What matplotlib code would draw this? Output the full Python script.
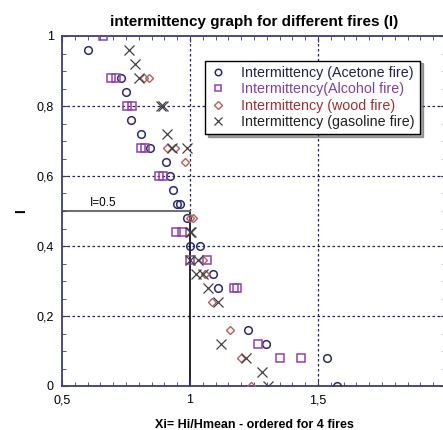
import matplotlib
matplotlib.use("Agg")
import matplotlib.pyplot as plt
from matplotlib.ticker import MultipleLocator, FuncFormatter

plt.rcParams['font.family'] = ['Liberation Sans', 'DejaVu Sans']

# intermittency levels (I) vs normalised height Xi for each fire
acetone_x = [0.60, 0.73, 0.75, 0.77, 0.81, 0.845, 0.905, 0.92, 0.935, 0.95, 0.96,
             0.99, 1.00, 1.04, 1.09, 1.11, 1.225, 1.295, 1.535, 1.575]
acetone_y = [0.96, 0.88, 0.84, 0.76, 0.72, 0.68, 0.64, 0.60, 0.56, 0.52, 0.52,
             0.48, 0.40, 0.40, 0.32, 0.28, 0.16, 0.12, 0.08, 0.00]

alcohol_x = [0.66, 0.69, 0.71, 0.755, 0.775, 0.81, 0.825, 0.88, 0.895, 0.945, 0.97,
             1.00, 1.065, 1.17, 1.185, 1.265, 1.35, 1.435]
alcohol_y = [1.00, 0.88, 0.88, 0.80, 0.80, 0.68, 0.68, 0.60, 0.60, 0.44, 0.44,
             0.36, 0.36, 0.28, 0.28, 0.12, 0.08, 0.08]

wood_x = [0.82, 0.84, 0.91, 0.94, 0.98, 1.00, 1.01, 1.05, 1.06, 1.085, 1.155, 1.20, 1.24]
wood_y = [0.88, 0.88, 0.68, 0.68, 0.64, 0.48, 0.48, 0.36, 0.32, 0.24, 0.16, 0.08, 0.00]

gasoline_x = [0.76, 0.785, 0.80, 0.885, 0.895, 0.91, 0.93, 0.99, 1.00, 1.005, 1.00, 1.03,
              1.025, 1.05, 1.07, 1.11, 1.12, 1.22, 1.28, 1.305]
gasoline_y = [0.96, 0.92, 0.88, 0.80, 0.80, 0.72, 0.68, 0.68, 0.44, 0.44, 0.36, 0.36,
              0.32, 0.32, 0.28, 0.24, 0.12, 0.08, 0.04, 0.00]

navy = '#3c3c80'
dots = (0, (2, 2))

fig = plt.figure(figsize=(4.43, 4.30), dpi=100)
ax = fig.add_axes([62/443, 44/430, 384/443, 350/430])

# reference lines (grid is drawn by hand, x=1 is half solid / half dotted)
for yv in [0.2, 0.4, 0.6, 0.8]:
    ax.axhline(yv, color='#202060', ls=dots, lw=0.9, zorder=1)
ax.axvline(1.5, color='#202060', ls=dots, lw=0.9, zorder=1)
ax.axvline(2.0, color='#202060', ls=dots, lw=0.9, zorder=1)
ax.plot([1, 1], [0.5, 1], color='#202060', ls=dots, lw=0.9, zorder=1)
ax.plot([1, 1], [0, 0.5], color='black', lw=1.2, zorder=1)
ax.plot([0.5, 1], [0.5, 0.5], color='#707070', lw=1.5, zorder=1)
ax.text(0.607, 0.515, 'I=0.5', fontsize=8.5)

ax.plot(acetone_x, acetone_y, 'o', ms=5.5, mfc='none', mec='#2a2a70', mew=1.1,
        label='Intermittency (Acetone fire)', zorder=3)
ax.plot(alcohol_x, alcohol_y, 's', ms=5.5, mfc='none', mec='#9040b0', mew=1.1,
        label='Intermittency(Alcohol fire)', zorder=3)
ax.plot(wood_x, wood_y, 'D', ms=4.3, mfc='none', mec='#b06060', mew=1.0,
        label='Intermittency (wood fire)', zorder=3)
ax.plot(gasoline_x, gasoline_y, 'x', ms=6.5, color='#404040', mew=0.9,
        label='Intermittency (gasoline fire)', zorder=3)

ax.set_xlim(0.5, 2.0)
ax.set_ylim(0, 1)
ax.xaxis.set_major_locator(MultipleLocator(0.5))
ax.xaxis.set_minor_locator(MultipleLocator(0.05))
ax.yaxis.set_major_locator(MultipleLocator(0.2))
ax.yaxis.set_minor_locator(MultipleLocator(0.05))
comma = FuncFormatter(lambda v, p: ('%g' % round(v, 2)).replace('.', ','))
ax.xaxis.set_major_formatter(comma)
ax.yaxis.set_major_formatter(comma)
ax.tick_params(which='both', direction='in', top=True, right=True, color=navy,
               labelsize=9, pad=6)
ax.tick_params(which='major', length=4)
ax.tick_params(which='minor', length=3)
for s in ax.spines.values():
    s.set_color(navy)
    s.set_linewidth(1.3)

ax.set_title('intermittency graph for different fires (I)', fontsize=11,
             fontweight='bold', pad=7)
ax.set_xlabel('Xi= Hi/Hmean - ordered for 4 fires', fontsize=9, fontweight='bold',
              labelpad=9)
ax.set_ylabel('I', fontsize=10, fontweight='bold', labelpad=6)

leg = ax.legend(loc='upper left', bbox_to_anchor=(0.372, 0.93), fontsize=10.3,
                frameon=True, fancybox=False, shadow=True, borderpad=0.4,
                handletextpad=1.1, labelspacing=0.15, handlelength=1.0,
                borderaxespad=0, markerscale=0.85)
leg.get_frame().set_edgecolor('black')
leg.get_frame().set_linewidth(1.0)
text_colors = ['#202050', '#8040a0', '#a03030', '#202020']
for t, c in zip(leg.get_texts(), text_colors):
    t.set_color(c)
leg.set_zorder(5)

fig.savefig('out.png', dpi=100)
